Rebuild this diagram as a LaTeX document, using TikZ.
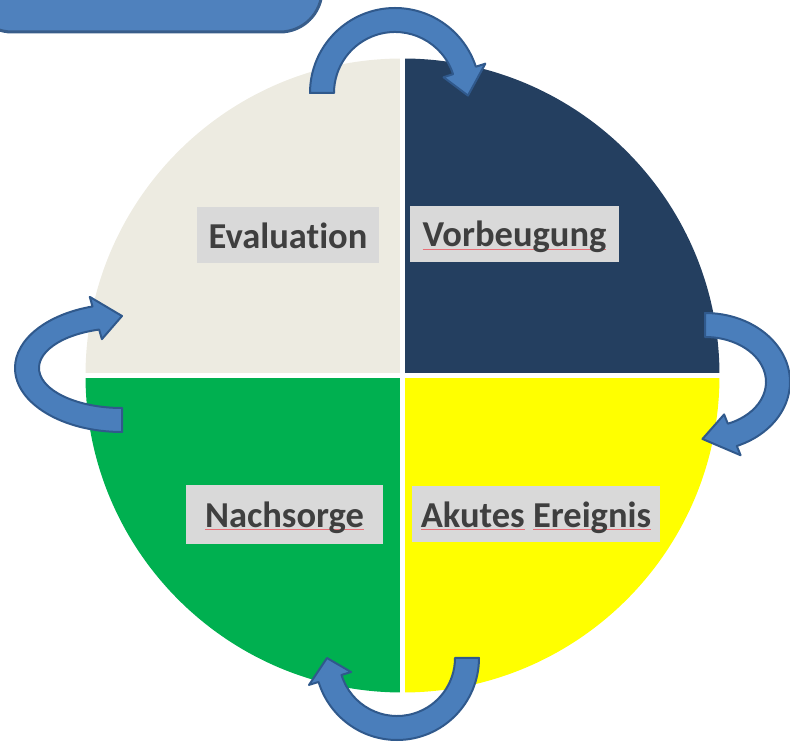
\documentclass[tikz,border=0pt]{standalone}
\usepackage{fontspec}
\setmainfont{Carlito}[Ligatures=NoCommon]
\usepackage{tikz}
\definecolor{Banner}{HTML}{4F81BD}
\definecolor{BannerEdge}{HTML}{385D8A}
\definecolor{Ribbon}{HTML}{4A7EBB}
\definecolor{RibbonEdge}{HTML}{30598C}
\definecolor{Beige}{HTML}{EDEBE1}
\definecolor{Navy}{HTML}{243F60}
\definecolor{Leaf}{HTML}{00B050}
\definecolor{Lemon}{HTML}{FFFF00}
\definecolor{TagGray}{HTML}{D9D9D9}
\definecolor{TagText}{HTML}{3F3F3F}
\definecolor{SpellRed}{HTML}{E87078}

% red line under a word
\newcommand\spellmark[1]{\setbox0\hbox{#1}\rlap{\textcolor{SpellRed}{\rule[-2.5pt]{\wd0}{0.6pt}}}\copy0\relax}

% curved block arrow: center, x radius, y radius, tail angle, head angle, tip angle
\newcommand\ringarrow[6]{%
  \begin{scope}[shift={#1}]
    \pgfmathsetmacro\rxo{#2+12}\pgfmathsetmacro\ryo{#3+12}
    \pgfmathsetmacro\rxi{#2-12}\pgfmathsetmacro\ryi{#3-12}
    \pgfmathsetmacro\rxho{#2+22}\pgfmathsetmacro\ryho{#3+22}
    \pgfmathsetmacro\rxhi{#2-22}\pgfmathsetmacro\ryhi{#3-22}
    \filldraw[ribbon] (#4:{\rxo} and {\ryo})
      arc[start angle=#4,end angle=#5,x radius=\rxo,y radius=\ryo]
      -- (#5:{\rxho} and {\ryho}) -- (#6:{#2} and {#3}) -- (#5:{\rxhi} and {\ryhi})
      -- (#5:{\rxi} and {\ryi})
      arc[start angle=#5,end angle=#4,x radius=\rxi,y radius=\ryi] -- cycle;
  \end{scope}}

\begin{document}
\begin{tikzpicture}[x=1pt,y=1pt,
    phase/.style={rectangle,fill=TagGray,text=TagText,minimum height=56,
      text height=29,text depth=3,font=\bfseries\fontsize{36.5}{40}\selectfont},
    ribbon/.style={fill=Ribbon,draw=RibbonEdge,line width=2,line join=round}
]
\useasboundingbox (0,0) rectangle (790,742);
\clip (0,0) rectangle (790,742);

% title tab in the corner
\filldraw[fill=Banner,draw=BannerEdge,line width=3,rounded corners=42] (-30,710) rectangle (322,790);

% the four quarters
\coordinate (mid) at (402.5,366.5);
\fill[Beige] (mid) -- ++(0,317) arc[start angle=90,end angle=180,radius=317] -- cycle;
\fill[Navy] (mid) -- ++(317,0) arc[start angle=0,end angle=90,radius=317] -- cycle;
\fill[Leaf] (mid) -- ++(-317,0) arc[start angle=180,end angle=270,radius=317] -- cycle;
\fill[Lemon] (mid) -- ++(0,-317) arc[start angle=270,end angle=360,radius=317] -- cycle;
\draw[white,line width=5] (mid) ++(-320,0) -- ++(640,0);
\draw[white,line width=5] (mid) ++(0,-320) -- ++(0,640);

\node[phase,minimum width=182] (eval) at (288,506.5) {Evaluation};
\node[phase,minimum width=209] (vorb) at (514.5,508) {\spellmark{Vorbeugung}};
\node[phase,minimum width=197,minimum height=59] (nach) at (284.5,227.5) {\spellmark{Nachsorge}};
\node[phase,minimum width=248] (akut) at (536,227.5) {\spellmark{Akutes} \spellmark{Ereignis}};

% arrows round the cycle
\ringarrow{(395,649)}{73}{73}{180}{18}{-2}
\ringarrow{(705,360)}{73}{57}{90}{-68}{-92}
\ringarrow{(397,84)}{70}{70}{0}{-163}{-180}
\ringarrow{(122,374)}{95}{52}{270}{106}{90}
\end{tikzpicture}
\end{document}
